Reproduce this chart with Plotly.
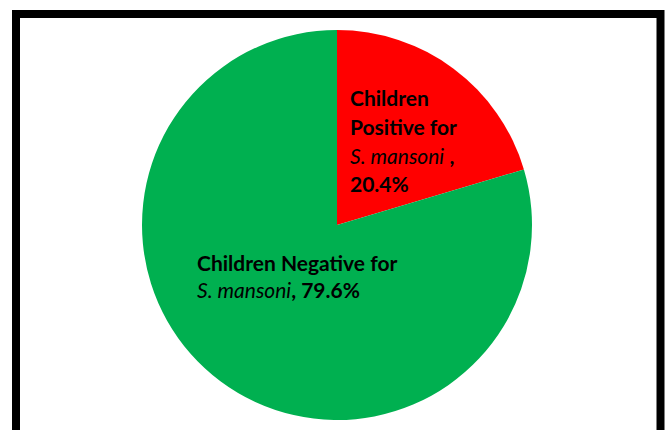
import plotly.graph_objects as go

W, H = 666, 430
categories = ["Children Positive for S. mansoni", "Children Negative for S. mansoni"]
values = [20.4, 79.6]
colors = ["#FF0000", "#00B050"]

pos_lines = ["<b>Children</b>", "<b>Positive for</b>", "<i>S. mansoni</i> <b>,</b>", "<b>20.4%</b>"]
neg_lines = ["<b>Children Negative for</b>", "<i>S. mansoni</i><b>, 79.6%</b>"]

def px(x):
    return x / W

def py(y):
    return 1 - y / H

fig = go.Figure(go.Pie(
    labels=categories, values=values, sort=False, direction="clockwise",
    rotation=0, marker=dict(colors=colors, line=dict(width=0)),
    textinfo="none", hoverinfo="label+percent", showlegend=False,
    domain=dict(x=[px(142), px(532)], y=[py(420), py(30)]),
))

FONT = dict(family="Lato, Open Sans, sans-serif", size=21, color="black")
annotations = []
for i, t in enumerate(pos_lines):
    annotations.append(dict(x=px(348), y=py(98 + i * 28.5), xref="paper", yref="paper",
                            text=t, showarrow=False, xanchor="left", yanchor="middle",
                            font=FONT))
for i, t in enumerate(neg_lines):
    annotations.append(dict(x=px(195), y=py(262 + i * 27), xref="paper", yref="paper",
                            text=t, showarrow=False, xanchor="left", yanchor="middle",
                            font=FONT))

fig.update_layout(
    width=W, height=H, margin=dict(l=0, r=0, t=0, b=0),
    paper_bgcolor="white", plot_bgcolor="white",
    annotations=annotations,
    shapes=[dict(type="rect", xref="paper", yref="paper",
                 x0=px(16), x1=px(660.5), y0=-0.1, y1=py(14),
                 line=dict(color="black", width=8), fillcolor="rgba(0,0,0,0)")],
)
fig.write_html("out.html")
